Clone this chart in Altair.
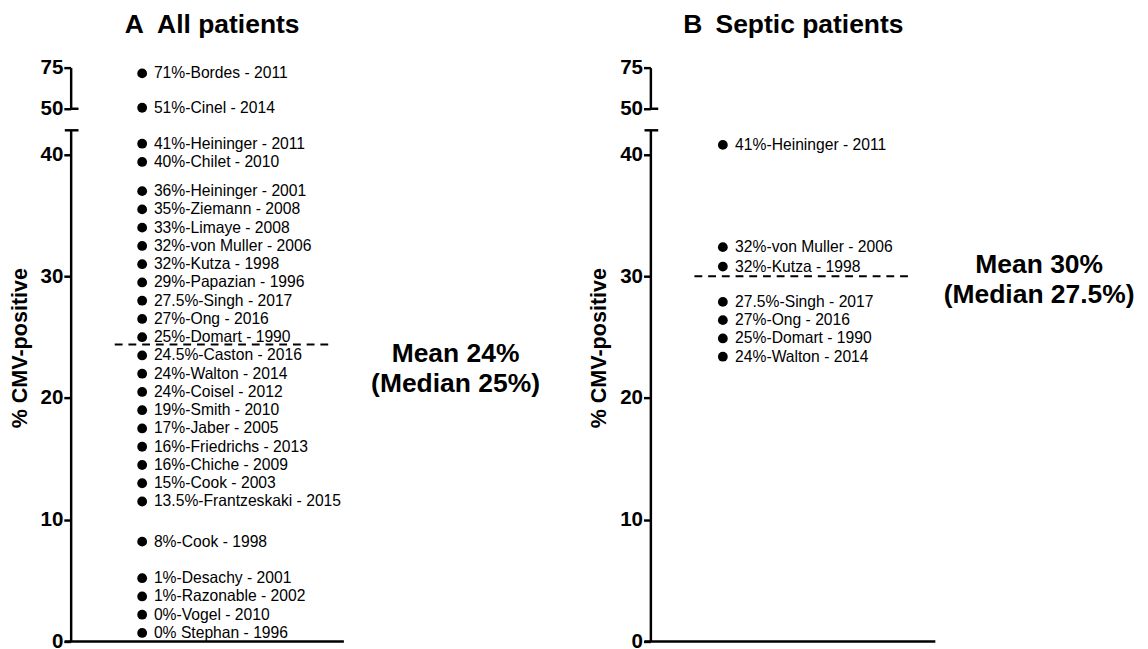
import altair as alt
import pandas as pd

FONT = "Liberation Sans"

# ---------------- data ----------------
a_title = "A\u2002All patients"
b_title = "B\u2002Septic patients"

a_upper_labels = ["71%-Bordes - 2011", "51%-Cinel - 2014"]
a_upper_pos = [71.5, 50.6]

a_labels = [
    "41%-Heininger - 2011", "40%-Chilet - 2010", "36%-Heininger - 2001",
    "35%-Ziemann - 2008", "33%-Limaye - 2008", "32%-von Muller - 2006",
    "32%-Kutza - 1998", "29%-Papazian - 1996", "27.5%-Singh - 2017",
    "27%-Ong - 2016", "25%-Domart - 1990", "24.5%-Caston - 2016",
    "24%-Walton - 2014", "24%-Coisel - 2012", "19%-Smith - 2010",
    "17%-Jaber - 2005", "16%-Friedrichs - 2013", "16%-Chiche - 2009",
    "15%-Cook - 2003", "13.5%-Frantzeskaki - 2015", "8%-Cook - 1998",
    "1%-Desachy - 2001", "1%-Razonable - 2002", "0%-Vogel - 2010",
    "0% Stephan - 1996",
]
a_pos = [40.9, 39.4, 37.0, 35.5, 34.0, 32.5, 31.0, 29.5, 28.0, 26.5, 25.0,
         23.5, 22.0, 20.5, 19.0, 17.5, 16.0, 14.5, 13.0, 11.5, 8.2, 5.2,
         3.7, 2.2, 0.7]
a_mean = 24.4
a_mean_text = "Mean 24%\n(Median 25%)"

b_upper_labels = []
b_upper_pos = []
b_labels = [
    "41%-Heininger - 2011", "32%-von Muller - 2006", "32%-Kutza - 1998",
    "27.5%-Singh - 2017", "27%-Ong - 2016", "25%-Domart - 1990",
    "24%-Walton - 2014",
]
b_pos = [40.8, 32.4, 30.8, 27.9, 26.4, 24.9, 23.4]
b_mean = 30.0
b_mean_text = "Mean 30%\n(Median 27.5%)"

upper_ticks = [50, 75]
lower_ticks = [0, 10, 20, 30, 40]
y_title = "% CMV-positive"

# ---------------- layout constants ----------------
UPPER_H = 42
LOWER_H = 522
AX_W = 2.5


def axis(values, title=None):
    kw = dict(values=values, grid=False, domainColor="black", domainWidth=AX_W,
              tickColor="black", tickWidth=AX_W, tickSize=7, labelPadding=1,
              labelFont=FONT, labelFontSize=21, labelFontWeight="bold",
              labelColor="black")
    if title is not None:
        kw.update(title=title, titleFont=FONT, titleFontSize=22,
                  titleFontWeight="bold", titleColor="black", titlePadding=9,
                  titleY=222)
    else:
        kw.update(title=None)
    return alt.Axis(**kw)


def one_row():
    return alt.Chart(alt.Data(values=[{"k": 0}]))


def panel(title, up_labels, up_pos, labels, pos, mean, mean_text, mean_dy,
          width, dot_x, label_x, line_x1, line_x2, axis_len, text_x, title_x):
    up_scale = alt.Scale(domain=[50, 75], nice=False, zero=False)
    lo_scale = alt.Scale(domain=[0, 42], nice=False, zero=False)

    def yu(field):
        return alt.Y(field, type="quantitative", scale=up_scale, axis=axis(upper_ticks))

    def yl(field):
        return alt.Y(field, type="quantitative", scale=lo_scale,
                     axis=axis(lower_ticks, y_title))

    up_df = pd.DataFrame({"pos": up_pos, "label": up_labels})
    lo_df = pd.DataFrame({"pos": pos, "label": labels})
    mean_df = pd.DataFrame({"mean": [mean], "txt": [mean_text]})
    title_df = pd.DataFrame({"t": [title]})

    up_base = alt.Chart(up_df)
    up_dots = up_base.mark_circle(size=100, color="black", opacity=1).encode(
        x=alt.value(dot_x), y=yu("pos"))
    up_text = up_base.mark_text(align="left", baseline="middle", font=FONT,
                                fontSize=16, color="black").encode(
        x=alt.value(label_x), y=yu("pos"), text="label:N")
    up_cap = one_row().mark_rule(color="black", strokeWidth=AX_W).encode(
        x=alt.value(0), x2=alt.value(8), y=alt.value(UPPER_H))
    ttl = alt.Chart(title_df).mark_text(align="center", baseline="alphabetic",
                                        font=FONT, fontSize=27, fontWeight="bold",
                                        color="black").encode(
        x=alt.value(title_x), y=alt.value(-35), text="t:N")
    upper = alt.layer(up_dots, up_text, up_cap, ttl).properties(
        width=width, height=UPPER_H)

    lo_base = alt.Chart(lo_df)
    lo_dots = lo_base.mark_circle(size=100, color="black", opacity=1).encode(
        x=alt.value(dot_x), y=yl("pos"))
    lo_text = lo_base.mark_text(align="left", baseline="middle", font=FONT,
                                fontSize=16, color="black").encode(
        x=alt.value(label_x), y=yl("pos"), text="label:N")
    mline = alt.Chart(mean_df).mark_rule(color="black", strokeWidth=2,
                                         strokeDash=[8, 6]).encode(
        x=alt.value(line_x1), x2=alt.value(line_x2), y=yl("mean"))
    mtext = alt.Chart(mean_df).mark_text(align="center", baseline="middle",
                                         font=FONT, fontSize=27, fontWeight="bold",
                                         color="black", lineBreak="\n",
                                         lineHeight=30, dy=mean_dy).encode(
        x=alt.value(text_x), y=yl("mean"), text="txt:N")
    lo_cap = one_row().mark_rule(color="black", strokeWidth=AX_W).encode(
        x=alt.value(-6), x2=alt.value(8), y=alt.value(0))
    xaxis = one_row().mark_rule(color="black", strokeWidth=AX_W).encode(
        x=alt.value(-6), x2=alt.value(axis_len), y=alt.value(LOWER_H))
    lower = alt.layer(lo_dots, lo_text, mline, mtext, lo_cap, xaxis).properties(
        width=width, height=LOWER_H)

    return alt.vconcat(upper, lower, spacing=22, bounds="flush")


pA = panel(a_title, a_upper_labels, a_upper_pos, a_labels, a_pos, a_mean,
           a_mean_text, 10, 480, 73, 85, 45, 268, 279, 393, 144.5)
pB = panel(b_title, b_upper_labels, b_upper_pos, b_labels, b_pos, b_mean,
           b_mean_text, -11, 500, 74, 86.5, 45, 269, 291, 397, 146)

chart = alt.hconcat(pA, pB, spacing=48).properties(
    padding={"top": -3, "left": 0, "right": 0, "bottom": 0}).configure_view(stroke=None)

chart.save("out.html", embed_options={"renderer": "svg", "actions": False})
